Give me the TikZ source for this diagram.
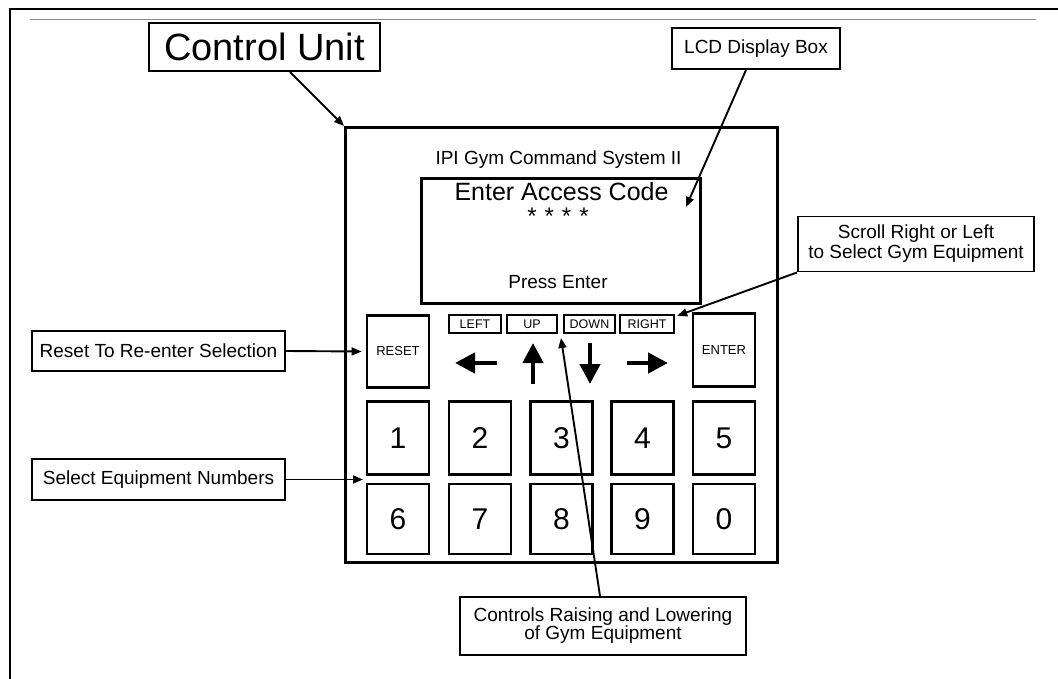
\documentclass[tikz,border=0pt]{standalone}
\usepackage{fontspec}
\setmainfont{Liberation Sans}
\usetikzlibrary{arrows.meta}
\begin{document}
\begin{tikzpicture}[x=1pt,y=-1pt,
  lbl/.style={draw, line width=1.9pt, inner sep=0pt, align=center, font=\fontsize{19}{20}\selectfont},
  keybox/.style={draw, line width=2.8pt, inner sep=0pt, minimum width=62pt, font=\fontsize{30}{32}\selectfont},
  tagbox/.style={draw, line width=2.4pt, inner sep=0pt, minimum height=18pt, font=\fontsize{12.5}{13}\selectfont},
  con/.style={line width=1.9pt, -{Triangle[length=10pt,width=8pt]}},
  bigarr/.style={line width=4.5pt, -{Triangle[length=20pt,width=20pt]}},
  txt/.style={inner sep=0pt, anchor=base}
]
\useasboundingbox (0,0) rectangle (1058,679);
% page frame
\draw[line width=2.5pt] (10,679) -- (10,9);
\draw[line width=2.2pt] (9,9) -- (1058,9);
\draw[line width=1.3pt, black!45] (30,19.5) -- (1036,19.5);

% main unit
\node[draw, line width=3pt, minimum width=432pt, minimum height=435pt] (main) at (561.5,345) {};
\node[txt, font=\fontsize{19}{20}\selectfont] (title) at (558.5,165) {IPI Gym Command System II};
\node[draw, line width=3pt, minimum width=279pt, minimum height=125pt] (lcd) at (561,241) {};
\node[txt, font=\fontsize{25}{26}\selectfont] (enter) at (561.5,201) {Enter Access Code};
\node[txt, font=\fontsize{24}{26}\selectfont] (stars) at (558,225) {*\hspace{8pt}*\hspace{8pt}*\hspace{8pt}*};
\node[txt, font=\fontsize{19}{20}\selectfont] (press) at (558,288) {Press Enter};

% function keys
\node[keybox, minimum height=72pt, font=\fontsize{13}{14}\selectfont] (reset) at (398,351.5) {RESET};
\node[keybox, minimum height=73pt, font=\fontsize{13}{14}\selectfont] (enterkey) at (724,350) {ENTER};

\node[tagbox, minimum width=52pt] (left) at (475,324) {LEFT};
\node[tagbox, minimum width=50pt] (up) at (532,324) {UP};
\node[tagbox, minimum width=51pt] (down) at (589.5,324) {DOWN};
\node[tagbox, minimum width=54pt] (right) at (647,324) {RIGHT};

% direction arrows
\draw[bigarr] (497,363) -- (455,363);
\draw[bigarr] (533,384) -- (533,343);
\draw[bigarr] (590,343) -- (590,384);
\draw[bigarr] (627,363) -- (668,363);

% number keys
\foreach \d/\x in {1/398,2/480,3/561.5,4/642.5,5/724}
  \node[keybox, minimum height=73pt] (k\d) at (\x,438) {\d};
\foreach \d/\x in {6/398,7/480,8/561.5,9/642.5,0/724}
  \node[keybox, minimum height=70pt] (k\d) at (\x,519) {\d};

% callout labels
\node[draw, line width=1.9pt, inner sep=0pt, minimum width=231pt, minimum height=48pt, font=\fontsize{38}{40}\selectfont] (cu) at (264.5,47) {Control Unit};
\node[lbl, minimum width=168pt, minimum height=41pt] (lcdlbl) at (756,48.5) {LCD Display Box};
\node[lbl, minimum width=236pt, minimum height=55pt] (scroll) at (916,244) {Scroll Right or Left\\to Select Gym Equipment};
\node[lbl, minimum width=253pt, minimum height=40pt] (reslbl) at (158.5,351) {Reset To Re-enter Selection};
\node[lbl, minimum width=253pt, minimum height=41pt] (sellbl) at (158.5,479.5) {Select Equipment Numbers};
\node[lbl, minimum width=286pt, minimum height=58pt, font=\fontsize{19}{18}\selectfont] (ctrl) at (603,626) {Controls Raising and Lowering\\of Gym Equipment};

\coordinate (lcdtip) at (686,207);
\coordinate (seltip) at (363,479.5);
\coordinate (ctrltip) at (561,338);

% connectors
\draw[con] ([xshift=25.5pt]cu.south) -- (main.north west);
\draw[con] ([xshift=-10pt]lcdlbl.south) -- (lcdtip);
\draw[con] (scroll.south west) -- ([xshift=2pt,yshift=-2pt]right.north east);
\draw[con] (reslbl.east) -- ([xshift=-4pt]reset.west);
\draw[con] (sellbl.east) -- (seltip);
\draw[con] ([xshift=-3pt]ctrl.north) -- (ctrltip);
\end{tikzpicture}
\end{document}
